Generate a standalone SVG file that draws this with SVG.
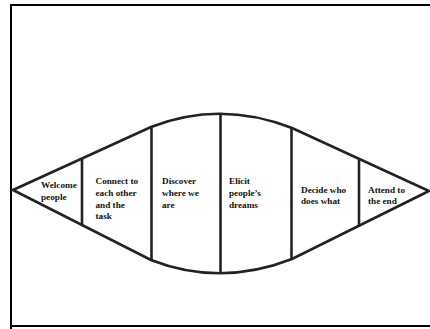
<svg xmlns="http://www.w3.org/2000/svg" width="430" height="329" viewBox="0 0 430 329">
<style>
.frame{fill:none;stroke:#000;stroke-width:2}
.outline{fill:#fff;stroke:#222;stroke-width:2.6;stroke-linejoin:miter}
.div{stroke:#222;stroke-width:2.6}
text{font-family:"Liberation Serif","Times New Roman",serif;font-weight:bold;font-size:9.2px;fill:#111}
</style>
<rect width="430" height="329" fill="#fff"/>
<path class="frame" d="M11,329 L11,5 L430,5 M11,326 L430,326"/>
<g id="connectors">
<path class="outline" d="M13,190 L151,127 Q220,100 292,128 L429,191 L292,259 Q220,287 151,260 Z"/>
<line class="div" x1="82" y1="159" x2="82" y2="226"/>
<line class="div" x1="151.5" y1="127" x2="151.5" y2="260"/>
<line class="div" x1="220.5" y1="114" x2="220.5" y2="273"/>
<line class="div" x1="291.5" y1="128" x2="291.5" y2="259"/>
<line class="div" x1="359" y1="159" x2="359" y2="225"/>
</g>
<g id="n1"><text x="41" y="188">Welcome</text><text x="41" y="200">people</text></g>
<g id="n2"><text x="95.5" y="184">Connect to</text><text x="95.5" y="196">each other</text><text x="95.5" y="207.5">and the</text><text x="95.5" y="219">task</text></g>
<g id="n3"><text x="162" y="184">Discover</text><text x="162" y="196">where we</text><text x="162" y="207.5">are</text></g>
<g id="n4"><text x="229" y="184">Elicit</text><text x="229" y="196">people’s</text><text x="229" y="207.5">dreams</text></g>
<g id="n5"><text x="301" y="193">Decide who</text><text x="301" y="203.5">does what</text></g>
<g id="n6"><text x="368" y="193">Attend to</text><text x="368" y="203.5">the end</text></g>
</svg>
